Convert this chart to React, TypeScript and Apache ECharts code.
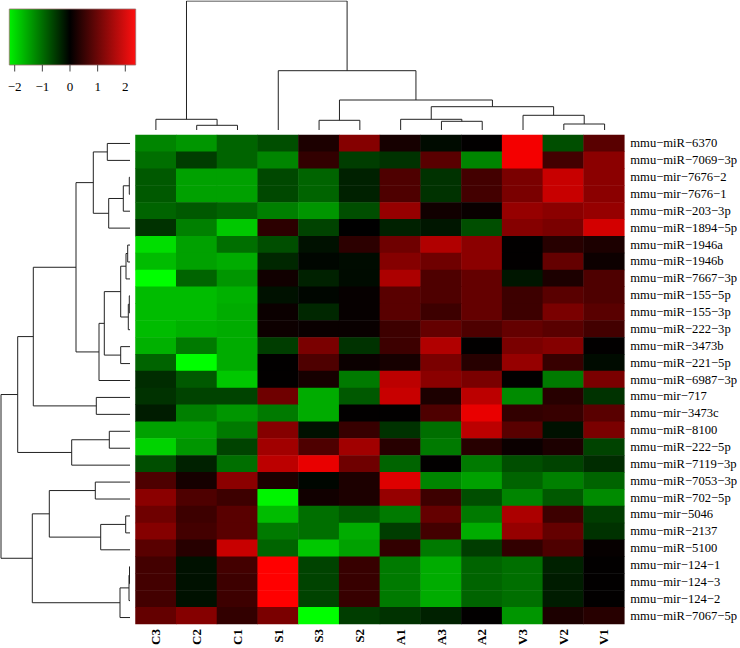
import React, { useEffect, useRef } from "react";
import * as echarts from "echarts";

const colNames = ["C3", "C2", "C1", "S1", "S3", "S2", "A1", "A3", "A2", "V3", "V2", "V1"];

const rowNames = [
  "mmu−miR−6370",
  "mmu−miR−7069−3p",
  "mmu−mir−7676−2",
  "mmu−mir−7676−1",
  "mmu−miR−203−3p",
  "mmu−miR−1894−5p",
  "mmu−miR−1946a",
  "mmu−miR−1946b",
  "mmu−miR−7667−3p",
  "mmu−miR−155−5p",
  "mmu−miR−155−3p",
  "mmu−miR−222−3p",
  "mmu−miR−3473b",
  "mmu−miR−221−5p",
  "mmu−miR−6987−3p",
  "mmu−mir−717",
  "mmu−mir−3473c",
  "mmu−miR−8100",
  "mmu−miR−222−5p",
  "mmu−miR−7119−3p",
  "mmu−miR−7053−3p",
  "mmu−miR−702−5p",
  "mmu−mir−5046",
  "mmu−miR−2137",
  "mmu−miR−5100",
  "mmu−mir−124−1",
  "mmu−mir−124−3",
  "mmu−mir−124−2",
  "mmu−miR−7067−5p",
];

// rows in display order, columns C3..V1
const cellValues: number[][] = [
  [-1.2, -1.35, -0.9, -0.7, 0.25, 1.2, 0.2, -0.1, 0.02, 2.2, -0.7, 0.8],
  [-1.0, -0.55, -0.9, -1.2, 0.45, -0.55, -0.45, 0.8, -1.2, 2.2, 0.6, 1.25],
  [-0.8, -1.45, -1.45, -0.65, -0.9, -0.3, 0.7, -0.45, 0.6, 1.1, 1.8, 1.25],
  [-0.8, -1.45, -1.45, -0.65, -0.9, -0.3, 0.7, -0.45, 0.6, 1.1, 1.8, 1.25],
  [-0.9, -0.8, -0.9, -1.15, -1.35, -0.7, 1.35, 0.15, 0.08, 1.35, 1.25, 1.35],
  [-0.45, -1.15, -1.8, 0.4, -0.6, 0.0, -0.3, -0.2, -0.7, 1.2, 1.1, 1.9],
  [-2.0, -1.45, -1.0, -0.7, -0.15, 0.4, 1.0, 1.6, 1.25, 0.02, 0.35, 0.25],
  [-1.7, -1.45, -1.55, -0.35, -0.05, -0.1, 1.2, 1.0, 1.25, 0.02, 0.9, 0.12],
  [-2.3, -0.9, -1.35, 0.15, -0.3, -0.1, 1.55, 0.7, 0.9, -0.2, 0.25, 0.7],
  [-1.7, -1.7, -1.6, -0.15, -0.05, 0.05, 0.8, 0.7, 0.9, 0.55, 0.8, 0.7],
  [-1.7, -1.7, -1.55, 0.1, -0.35, 0.05, 0.8, 0.55, 0.9, 0.55, 1.1, 0.8],
  [-1.7, -1.6, -1.55, 0.12, 0.08, 0.08, 0.55, 0.9, 0.7, 0.9, 0.8, 0.6],
  [-1.6, -1.1, -1.55, -0.55, 1.1, -0.45, 0.55, 1.6, 0.02, 1.1, 1.2, 0.02],
  [-0.9, -2.3, -1.55, 0.02, 0.7, 0.1, 0.2, 1.1, 0.35, 1.35, 0.5, -0.1],
  [-0.4, -0.8, -1.8, 0.02, 0.2, -1.1, 1.7, 1.25, 1.1, 0.02, -1.1, 1.1],
  [-0.45, -0.6, -0.6, 1.0, -1.55, -0.8, 1.8, 0.25, 1.7, -1.25, 0.35, -0.45],
  [-0.25, -1.15, -1.35, -1.1, -1.55, 0.02, 0.02, 0.7, 2.1, 0.45, 0.5, 0.8],
  [-1.45, -1.45, -1.1, 1.2, -0.15, 0.5, -0.45, -1.0, 1.7, 0.8, -0.15, 1.1],
  [-1.9, -1.35, -0.6, 1.45, 0.7, 1.45, 0.35, -1.1, 0.35, 0.1, 0.25, -0.6],
  [-0.7, -0.3, -1.0, 1.7, 2.1, 1.0, -0.9, 0.02, -1.1, -0.7, -0.6, -0.4],
  [0.7, 0.2, 1.25, 0.25, -0.05, 0.25, 2.0, -1.2, -1.45, -0.9, -1.15, -0.9],
  [1.25, 0.7, 0.55, -2.2, 0.15, 0.25, 1.35, 0.55, -0.7, -1.2, -0.8, -1.25],
  [1.0, 0.55, 0.8, -1.7, -1.0, -0.8, -1.1, 0.9, -1.1, 1.55, 0.55, -0.55],
  [1.2, 0.6, 0.8, -1.1, -1.0, -1.55, -0.55, 0.6, -1.55, 1.35, 0.9, -0.45],
  [0.8, 0.35, 1.8, -0.9, -1.8, -1.45, 0.45, -1.1, -0.55, 0.45, 0.7, 0.05],
  [0.6, -0.15, 0.6, 2.35, -0.6, 0.5, -1.1, -1.55, -0.9, -1.0, -0.3, 0.02],
  [0.6, -0.15, 0.55, 2.35, -0.6, 0.5, -1.1, -1.55, -0.9, -1.0, -0.25, 0.02],
  [0.6, -0.15, 0.55, 2.35, -0.6, 0.5, -1.1, -1.55, -0.9, -1.0, -0.25, 0.02],
  [0.9, 1.2, 0.45, 1.1, -2.3, -0.55, -0.45, -0.3, 0.02, -1.35, 0.25, 0.35],
];

// hclust-style merges: negative = leaf (1-based), positive = earlier merge (1-based), then height
const colMerges: [number, number, number][] = [
  [-2, -3, 4.7],
  [-1, 1, 10.7],
  [-8, -9, 8.7],
  [-7, 3, 10.7],
  [-11, -12, 6.0],
  [-10, 5, 14.7],
  [4, 6, 23.3],
  [-5, -6, 9.7],
  [8, 7, 30.0],
  [-4, 9, 59.3],
  [2, 10, 129],
];

const rowMerges: [number, number, number][] = [
  [-1, -2, 22.7],
  [-3, -4, 0.7],
  [2, -5, 6.7],
  [3, -6, 21.3],
  [1, 4, 36.7],
  [-7, -8, 2.3],
  [6, -9, 4.0],
  [-10, -11, 0.7],
  [8, -12, 1.7],
  [7, 9, 9.3],
  [-13, -14, 9.3],
  [10, 11, 25.7],
  [12, -15, 31.0],
  [5, 13, 54.0],
  [-16, -17, 33.7],
  [14, 15, 96.7],
  [-18, -19, 20.7],
  [17, -20, 58.3],
  [16, 18, 112.3],
  [-21, -22, 34.7],
  [-23, -24, 4.3],
  [21, -25, 29.3],
  [20, 22, 80.7],
  [-26, -27, 0.5],
  [24, -28, 1.0],
  [25, -29, 10.0],
  [23, 26, 97.7],
  [19, 27, 129],
];

const legendTicks = [-2, -1, 0, 1, 2];
const colorMin = -2.3;
const colorMax = 2.3;

const FONT = "'Liberation Serif', 'Times New Roman', serif";

function dendroSegments(merges: [number, number, number][]) {
  const pos: number[] = [];
  const ht: number[] = [];
  const segs: number[][][] = [];
  const get = (id: number) =>
    id < 0 ? { p: -id - 1 + 0.5, h: 0 } : { p: pos[id - 1], h: ht[id - 1] };
  merges.forEach(([a, b, h], k) => {
    const A = get(a);
    const B = get(b);
    pos[k] = (A.p + B.p) / 2;
    ht[k] = h;
    segs.push([
      [A.p, A.h],
      [A.p, h],
      [B.p, h],
      [B.p, B.h],
    ]);
  });
  return segs;
}

export default function App() {
  const ref = useRef<HTMLDivElement>(null);
  useEffect(() => {
    if (!ref.current) return;
    const chart = echarts.init(ref.current, undefined, { renderer: "svg" });

    const heatData: number[][] = [];
    cellValues.forEach((row, r) =>
      row.forEach((v, c) => heatData.push([c, r, v]))
    );

    const topSegs = dendroSegments(colMerges);
    const leftSegs = dendroSegments(rowMerges).map((s) => s.map(([p, h]) => [h, p]));

    // legend geometry
    const lgX = 9.3, lgY = 9, lgW = 126.4, lgH = 56;
    const lgMin = -2.195, lgMax = 2.376;
    const lgPx = (v: number) => lgX + ((v - lgMin) / (lgMax - lgMin)) * lgW;
    const zeroOff = (0 - lgMin) / (lgMax - lgMin);

    const graphics: any[] = [
      {
        type: "rect",
        shape: { x: lgX, y: lgY, width: lgW, height: lgH },
        style: {
          fill: new echarts.graphic.LinearGradient(0, 0, 1, 0, [
            { offset: 0, color: "#00f000" },
            { offset: zeroOff, color: "#000000" },
            { offset: 1, color: "#ff1010" },
          ]),
          stroke: "#9a7070",
          lineWidth: 0.8,
        },
      },
    ];
    legendTicks.forEach((t) => {
      const x = lgPx(t);
      graphics.push({
        type: "line",
        shape: { x1: x, y1: lgY + lgH, x2: x, y2: lgY + lgH + 6.5 },
        style: { stroke: "#444", lineWidth: 1 },
      });
      graphics.push({
        type: "text",
        style: {
          text: t < 0 ? "−" + Math.abs(t) : String(t),
          x,
          y: 86,
          align: "center",
          verticalAlign: "middle",
          fontSize: 13,
          fontFamily: FONT,
          fill: "#000",
        },
      });
    });

    chart.setOption({
      animation: false,
      backgroundColor: "#ffffff",
      graphic: graphics,
      grid: [
        { left: 135.5, top: 135, width: 489.5, height: 491 },
        { left: 135.5, top: 1, width: 489.5, height: 129 },
        { left: 1, top: 135, width: 129, height: 491 },
      ],
      xAxis: [
        {
          gridIndex: 0,
          type: "category",
          data: colNames,
          axisLine: { show: false },
          axisTick: { show: false },
          splitLine: { show: false },
          axisLabel: {
            interval: 0,
            rotate: 90,
            margin: 5,
            fontSize: 13,
            fontWeight: "bold",
            fontFamily: FONT,
            color: "#000",
          },
        },
        { gridIndex: 1, type: "value", min: 0, max: 12, show: false },
        { gridIndex: 2, type: "value", min: 0, max: 129, inverse: true, show: false },
      ],
      yAxis: [
        {
          gridIndex: 0,
          type: "category",
          data: rowNames,
          inverse: true,
          position: "right",
          axisLine: { show: false },
          axisTick: { show: false },
          splitLine: { show: false },
          axisLabel: {
            interval: 0,
            margin: 6,
            fontSize: 12.6,
            fontFamily: FONT,
            color: "#000",
          },
        },
        { gridIndex: 1, type: "value", min: 0, max: 129, show: false },
        { gridIndex: 2, type: "value", min: 0, max: 29, inverse: true, show: false },
      ],
      visualMap: {
        show: false,
        type: "continuous",
        min: colorMin,
        max: colorMax,
        seriesIndex: 0,
        inRange: { color: ["#00ff00", "#000000", "#ff0000"] },
      },
      series: [
        {
          type: "heatmap",
          xAxisIndex: 0,
          yAxisIndex: 0,
          data: heatData,
          itemStyle: { borderWidth: 0 },
          emphasis: { disabled: true },
          silent: true,
        },
        {
          type: "lines",
          coordinateSystem: "cartesian2d",
          xAxisIndex: 1,
          yAxisIndex: 1,
          polyline: true,
          silent: true,
          data: topSegs.map((c) => ({ coords: c })),
          lineStyle: { color: "#222", width: 1, opacity: 1 },
        },
        {
          type: "lines",
          coordinateSystem: "cartesian2d",
          xAxisIndex: 2,
          yAxisIndex: 2,
          polyline: true,
          silent: true,
          data: leftSegs.map((c) => ({ coords: c })),
          lineStyle: { color: "#222", width: 1, opacity: 1 },
        },
      ],
    });
    return () => chart.dispose();
  }, []);
  return (
    <div
      ref={ref}
      style={{ position: "absolute", left: 0, top: 0, width: 740, height: 648 }}
    />
  );
}
